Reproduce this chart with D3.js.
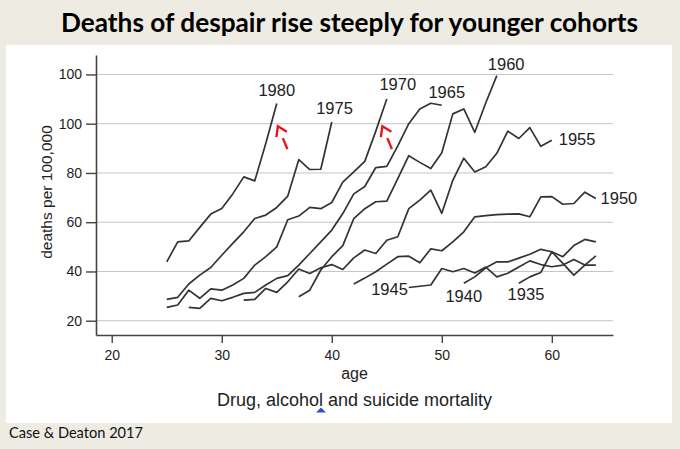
<!DOCTYPE html>
<html><head><meta charset="utf-8">
<script src="https://cdn.jsdelivr.net/npm/d3@7"></script>
<style>html,body{margin:0;padding:0;background:#EEEBE3;} svg{display:block}</style>
</head><body>
<svg id="chart" width="680" height="449"></svg>
<script>
// ---- data ----
const cohorts   = ["1980","1975","1970","1965","1960","1955","1950","1945","1940","1935"];
const startAges = [25, 25, 25, 27, 37, 32, 42, 47, 52, 57];
const v1980 = [43.9, 52.0, 52.4, 57.9, 63.3, 65.6, 71.5, 78.4, 76.8, 92.0, 108.2];
const v1975 = [28.7, 29.5, 34.9, 38.5, 41.6, 46.6, 51.4, 56.1, 61.5, 62.9, 66.0, 70.6, 85.4, 81.4, 81.5, 100.7];
const v1970 = [25.4, 26.4, 32.4, 29.1, 32.9, 32.4, 34.5, 37.2, 42.6, 46.0, 50.0, 61.0, 62.5, 66.0, 65.5, 68.0, 76.3, 80.4, 84.7, 97.0, 110.0];
const v1965 = [25.4, 25.0, 29.1, 28.1, 29.5, 31.1, 31.5, 34.5, 37.2, 38.3, 42.6, 47.3, 52.0, 56.8, 63.5, 71.5, 74.5, 82.2, 82.7, 91.0, 100.0, 106.0, 108.3, 107.5];
const v1960 = [29.7, 32.4, 40.6, 46.0, 50.5, 61.5, 65.5, 68.3, 68.6, 77.7, 87.0, 84.3, 81.8, 88.2, 104.0, 106.0, 96.5, 108.5, 119.5];
const v1955 = [28.4, 28.7, 33.1, 31.5, 35.8, 41.0, 39.2, 41.5, 42.8, 40.8, 45.5, 48.7, 47.3, 52.7, 54.1, 65.5, 69.0, 73.0, 63.6, 77.0, 86.0, 80.4, 82.5, 88.0, 97.0, 94.0, 98.4, 90.8, 93.3];
const v1950 = [34.9, 37.3, 39.9, 43.0, 46.0, 46.2, 43.5, 49.2, 48.4, 52.0, 56.1, 62.2, 62.7, 63.1, 63.3, 63.4, 62.2, 70.3, 70.4, 67.3, 67.6, 72.2, 69.6];
const v1945 = [33.5, 34.0, 34.5, 41.2, 39.9, 41.2, 39.4, 41.8, 37.8, 39.3, 41.8, 44.3, 42.8, 41.9, 42.6, 44.9, 42.6, 42.6];
const v1940 = [35.2, 37.8, 41.5, 43.9, 43.9, 45.4, 47.0, 49.0, 48.0, 46.0, 50.5, 53.0, 52.0];
const v1935 = [35.2, 37.8, 39.6, 48.0, 43.3, 38.5, 42.6, 46.3];
const seriesValues = [v1980, v1975, v1970, v1965, v1960, v1955, v1950, v1945, v1940, v1935];

// cohort label anchors (age, value)
const labelAges   = [35.0, 40.25, 46.0, 50.45, 55.85, 62.3, 66.1, 45.25, 52.0, 57.65];
const labelValues = [111.1, 103.8, 113.7, 110.6, 122.0, 91.2, 67.3, 30.4, 27.7, 28.4];

// red arrow annotations (tip position, age/value)
const arrowAges   = [35.1, 44.6];
const arrowValues = [99.0, 99.0];

const xTicks = [20, 30, 40, 50, 60];
const yTicks = [20, 40, 60, 80, 100, 120];
const yTickLabels = ["20", "40", "60", "80", "100", "100"];

const titleText = "Deaths of despair rise steeply for younger cohorts";
const xLabel = "age";
const yLabel = "deaths per 100,000";
const captionText = "Drug, alcohol and suicide mortality";
const sourceText = "Case & Deaton 2017";

// ---- drawing ----
const svg = d3.select("#chart");
const W = 680, H = 449;
svg.append("rect").attr("width", W).attr("height", H).attr("fill", "#EEEBE3");
svg.append("rect").attr("x", 6).attr("y", 45).attr("width", 666).attr("height", 378).attr("fill", "#ffffff");

svg.append("text")
  .attr("x", 61).attr("y", 32)
  .attr("font-family", "Lato, 'Open Sans', sans-serif")
  .attr("font-weight", "bold").attr("font-size", 27)
  .attr("textLength", 577).attr("lengthAdjust", "spacingAndGlyphs")
  .attr("fill", "#000").text(titleText);

svg.append("text")
  .attr("x", 9).attr("y", 438)
  .attr("font-family", "Lato, 'Open Sans', sans-serif")
  .attr("font-size", 15)
  .attr("textLength", 134).attr("lengthAdjust", "spacingAndGlyphs")
  .attr("fill", "#111").text(sourceText);

const x = d3.scaleLinear().domain([18.57, 65.56]).range([96, 613]);
const y = d3.scaleLinear().domain([14.2, 127.9]).range([335, 55]);
const FONT = "'Liberation Sans', Arial, sans-serif";

// gridlines
svg.append("g").selectAll("line").data(yTicks).join("line")
  .attr("x1", x.range()[0]).attr("x2", x.range()[1])
  .attr("y1", d => y(d)).attr("y2", d => y(d))
  .attr("stroke", "#c4c4c4").attr("stroke-width", 1);

// axes
const gy = svg.append("g").attr("transform", `translate(${x.range()[0]},0)`)
  .call(d3.axisLeft(y).tickValues(yTicks).tickFormat((d, i) => yTickLabels[i]).tickSize(10).tickSizeOuter(0).tickPadding(4));
const gx = svg.append("g").attr("transform", `translate(0,${y.range()[0]})`)
  .call(d3.axisBottom(x).tickValues(xTicks).tickFormat(d3.format("d")).tickSize(8).tickSizeOuter(0).tickPadding(7));
[gx, gy].forEach(g => {
  g.select(".domain").attr("stroke", "#444").attr("stroke-width", 1.6);
  g.selectAll(".tick line").attr("stroke", "#444").attr("stroke-width", 1.4);
  g.selectAll(".tick text").attr("font-family", FONT).attr("font-size", 14).attr("fill", "#1e1e1e");
});

// series lines
const line = d3.line().x(d => x(d[0])).y(d => y(d[1]));
const seriesData = cohorts.map((c, i) => seriesValues[i].map((v, j) => [startAges[i] + j, v]));
svg.append("g").selectAll("path").data(seriesData).join("path")
  .attr("d", line).attr("fill", "none")
  .attr("stroke", "#333").attr("stroke-width", 1.7).attr("stroke-linejoin", "round");

// cohort labels
svg.append("g").selectAll("text").data(cohorts).join("text")
  .attr("x", (d, i) => x(labelAges[i])).attr("y", (d, i) => y(labelValues[i]))
  .attr("text-anchor", "middle").attr("font-family", FONT).attr("font-size", 16.5)
  .attr("fill", "#222").text(d => d);

// red arrows
const ag = svg.append("g").attr("stroke", "#e8141b").attr("stroke-width", 2.4).attr("fill", "none").attr("stroke-linecap", "butt");
arrowAges.forEach((a, i) => {
  const tx = x(a), ty = y(arrowValues[i]);
  ag.append("path").attr("d", `M${tx - 1.5},${ty + 11}L${tx},${ty}L${tx + 9},${ty + 5.5}`);
  ag.append("path").attr("d", `M${tx + 5},${ty + 12}L${tx + 9.5},${ty + 23}`);
});

// axis titles
const xMid = (x.range()[0] + x.range()[1]) / 2;
svg.append("text").attr("x", xMid).attr("y", 379).attr("text-anchor", "middle")
  .attr("font-family", FONT).attr("font-size", 16).attr("fill", "#222").text(xLabel);
const capY = 405.5;
const cap = svg.append("text").attr("x", xMid).attr("y", capY).attr("text-anchor", "middle")
  .attr("font-family", FONT).attr("font-size", 18).attr("fill", "#222").text(captionText);
svg.append("text").attr("transform", `translate(52,192) rotate(-90)`)
  .attr("text-anchor", "middle").attr("font-family", FONT).attr("font-size", 15.5).attr("fill", "#222").text(yLabel);

// small blue proofing mark under the "l" of "alcohol"
const ext = cap.node().getExtentOfChar(captionText.indexOf("alcohol") + 6);
const mx = ext.x + ext.width / 2;
svg.append("path").attr("d", `M${mx - 5},${capY + 7}L${mx},${capY + 2}L${mx + 5},${capY + 7}Z`).attr("fill", "#2b4fd6");
</script>
</body></html>
